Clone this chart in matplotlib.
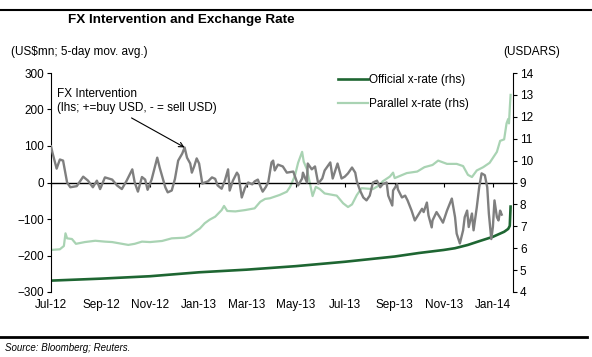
import pandas as pd
import matplotlib
matplotlib.use("Agg")
import matplotlib.pyplot as plt
import matplotlib.dates as mdates

plt.rcParams['font.family'] = ['Liberation Sans', 'DejaVu Sans']

# FX intervention, US$mn, 5-day moving average (lhs)
fx_dates = [
    "2012-07-01", "2012-07-03", "2012-07-08", "2012-07-12", "2012-07-16", "2012-07-21",
    "2012-07-25", "2012-08-02", "2012-08-10", "2012-08-16", "2012-08-22", "2012-08-27",
    "2012-08-31", "2012-09-06", "2012-09-15", "2012-09-21", "2012-09-27", "2012-10-03",
    "2012-10-10", "2012-10-13", "2012-10-17", "2012-10-22", "2012-10-26", "2012-10-29",
    "2012-11-03", "2012-11-10", "2012-11-13", "2012-11-20", "2012-11-23", "2012-11-28",
    "2012-12-02", "2012-12-06", "2012-12-11", "2012-12-14", "2012-12-17", "2012-12-21",
    "2012-12-23", "2012-12-26", "2012-12-29", "2013-01-01", "2013-01-05", "2013-01-08",
    "2013-01-12", "2013-01-17", "2013-01-21", "2013-01-24", "2013-01-29", "2013-02-02",
    "2013-02-06", "2013-02-08", "2013-02-12", "2013-02-17", "2013-02-19", "2013-02-23",
    "2013-02-27", "2013-03-03", "2013-03-08", "2013-03-11", "2013-03-15", "2013-03-18",
    "2013-03-21", "2013-03-25", "2013-03-28", "2013-04-01", "2013-04-03", "2013-04-05",
    "2013-04-09", "2013-04-15", "2013-04-20", "2013-04-28", "2013-05-01", "2013-05-04",
    "2013-05-09", "2013-05-10", "2013-05-15", "2013-05-16", "2013-05-21", "2013-05-25",
    "2013-05-29", "2013-06-03", "2013-06-06", "2013-06-13", "2013-06-16", "2013-06-22",
    "2013-06-27", "2013-07-01", "2013-07-05", "2013-07-10", "2013-07-14", "2013-07-16",
    "2013-07-20", "2013-07-24", "2013-07-28", "2013-08-01", "2013-08-05", "2013-08-10",
    "2013-08-14", "2013-08-17", "2013-08-22", "2013-08-24", "2013-08-29", "2013-08-30",
    "2013-09-04", "2013-09-05", "2013-09-10", "2013-09-14", "2013-09-17", "2013-09-22",
    "2013-09-26", "2013-09-30", "2013-10-05", "2013-10-07", "2013-10-11", "2013-10-13",
    "2013-10-17", "2013-10-18", "2013-10-23", "2013-10-27", "2013-10-31", "2013-11-05",
    "2013-11-11", "2013-11-15", "2013-11-17", "2013-11-21", "2013-11-25", "2013-11-27",
    "2013-11-30", "2013-12-02", "2013-12-06", "2013-12-08", "2013-12-12", "2013-12-15",
    "2013-12-18", "2013-12-22", "2013-12-25", "2013-12-27", "2013-12-30", "2014-01-01",
    "2014-01-03", "2014-01-06", "2014-01-08", "2014-01-10", "2014-01-12",
]
fx_values = [
    99, 80, 38, 63, 60, 0,
    -13, -10, 16, 5, -13, 5,
    -18, 14, 8, -8, -18, 5,
    36, 0, -25, 15, 8, -20,
    8, 68, 41, -13, -27, -22,
    10, 60, 79, 96, 68, 52,
    27, 45, 66, 52, -3, 0,
    3, 14, 10, -8, -17, 5,
    36, -22, 5, 27, 20, -41,
    -15, 0, -5, 3, 8, -10,
    -25, -12, 2, 55, 60, 33,
    49, 44, 27, 30, 11, -8,
    11, 27, 0, 52, 36, 44,
    -3, 11, 33, 55, 11, 52,
    11, 16, 25, 41, 27, 3,
    -22, -41, -49, -36, 0, 5,
    -13, -5, 0, -36, -63, -22,
    -5, -19, -41, -36, -49, -77,
    -104, -90, -72, -81, -55, -90,
    -123, -104, -81, -95, -110, -77,
    -44, -95, -140, -167, -131, -95,
    -77, -122, -85, -131, -68, -13,
    25, 20, -13, -85, -155, -122,
    -49, -95, -104, -77, -88,
]

# official exchange rate, ARS per USD (rhs)
official_dates = [
    "2012-07-01", "2012-09-01", "2012-11-01", "2013-01-01", "2013-03-01", "2013-05-01",
    "2013-07-01", "2013-09-01", "2013-10-01", "2013-11-01", "2013-11-15", "2013-12-01",
    "2013-12-15", "2014-01-01", "2014-01-15", "2014-01-20", "2014-01-22", "2014-01-23",
]
official_values = [
    4.52, 4.61, 4.72, 4.90, 5.02, 5.18,
    5.38, 5.62, 5.78, 5.92, 6.00, 6.15,
    6.32, 6.52, 6.75, 6.88, 7.02, 7.90,
]

# parallel ("blue") exchange rate, ARS per USD (rhs)
parallel_dates = [
    "2012-07-01", "2012-07-12", "2012-07-17", "2012-07-19", "2012-07-21", "2012-07-27",
    "2012-08-01", "2012-08-12", "2012-08-25", "2012-09-06", "2012-09-15", "2012-10-05",
    "2012-10-13", "2012-10-22", "2012-11-01", "2012-11-16", "2012-11-28", "2012-12-14",
    "2012-12-21", "2012-12-27", "2013-01-02", "2013-01-08", "2013-01-14", "2013-01-21",
    "2013-01-29", "2013-02-01", "2013-02-05", "2013-02-15", "2013-02-27", "2013-03-11",
    "2013-03-18", "2013-03-24", "2013-03-30", "2013-04-11", "2013-04-20", "2013-04-24",
    "2013-04-30", "2013-05-04", "2013-05-09", "2013-05-11", "2013-05-15", "2013-05-19",
    "2013-05-22", "2013-05-26", "2013-05-31", "2013-06-06", "2013-06-21", "2013-06-29",
    "2013-07-05", "2013-07-10", "2013-07-16", "2013-07-22", "2013-08-05", "2013-08-14",
    "2013-08-17", "2013-08-26", "2013-08-30", "2013-09-01", "2013-09-16", "2013-09-29",
    "2013-10-08", "2013-10-18", "2013-10-25", "2013-11-05", "2013-11-17", "2013-11-25",
    "2013-12-01", "2013-12-06", "2013-12-12", "2013-12-20", "2013-12-28", "2014-01-06",
    "2014-01-10", "2014-01-15", "2014-01-18", "2014-01-20", "2014-01-21", "2014-01-22",
    "2014-01-23",
]
parallel_values = [
    5.92, 5.95, 6.10, 6.68, 6.45, 6.42,
    6.20, 6.28, 6.34, 6.30, 6.28, 6.15,
    6.20, 6.30, 6.28, 6.33, 6.45, 6.48,
    6.58, 6.75, 6.90, 7.14, 7.30, 7.44,
    7.74, 7.93, 7.70, 7.68, 7.74, 7.82,
    8.12, 8.25, 8.28, 8.43, 8.58, 8.80,
    9.30, 9.90, 10.40, 9.95, 9.60, 8.90,
    8.38, 8.80, 8.70, 8.50, 8.40, 8.05,
    7.88, 8.00, 8.43, 8.74, 8.70, 8.90,
    9.05, 9.27, 9.45, 9.20, 9.43, 9.50,
    9.70, 9.80, 10.00, 9.85, 9.85, 9.75,
    9.35, 9.25, 9.55, 9.70, 9.90, 10.40,
    10.90, 10.97, 11.70, 11.90, 11.70, 12.40,
    13.00,
]

fx = pd.Series(fx_values, index=pd.to_datetime(fx_dates))
official = pd.Series(official_values, index=pd.to_datetime(official_dates))
parallel = pd.Series(parallel_values, index=pd.to_datetime(parallel_dates))

GREY = "#7f7f7f"
DARK_GREEN = "#1e6632"
LIGHT_GREEN = "#a9d3b3"
FS = 8.5

fig = plt.figure(figsize=(5.92, 3.57), dpi=100)
ax = fig.add_axes([51 / 592, 1 - 292 / 357, (513 - 51) / 592, (292 - 73) / 357])
ax2 = ax.twinx()

ax.plot(fx.index, fx.values, color=GREY, lw=1.7, zorder=3)
ax2.plot(official.index, official.values, color=DARK_GREEN, lw=1.9, label="Official x-rate (rhs)")
ax2.plot(parallel.index, parallel.values, color=LIGHT_GREEN, lw=1.6, label="Parallel x-rate (rhs)")

ax.set_ylim(-300, 300)
ax.set_yticks(range(-300, 301, 100))
ax2.set_ylim(4, 14)
ax2.set_yticks(range(4, 15))
xmin, xmax = pd.Timestamp("2012-07-01"), pd.Timestamp("2014-01-26")
ax.set_xlim(xmin, xmax)

for a in (ax, ax2):
    a.spines['top'].set_visible(False)
    a.tick_params(axis='y', direction='out', length=3, width=0.8, labelsize=FS, pad=2)
ax.spines['right'].set_visible(False)
ax2.spines['left'].set_visible(False)
ax2.spines['bottom'].set_visible(False)

# zero line carries the month ticks, labels sit at the bottom
ax.spines['bottom'].set_position(('data', 0))
ax.spines['bottom'].set_linewidth(1.0)
months = mdates.MonthLocator(bymonth=[1, 3, 5, 7, 9, 11])
ax.xaxis.set_major_locator(months)
ax.tick_params(axis='x', direction='out', length=3, width=0.8, labelbottom=False)
sec = ax.secondary_xaxis('bottom')
sec.xaxis.set_major_locator(months)
sec.xaxis.set_major_formatter(mdates.DateFormatter('%b-%y'))
sec.tick_params(axis='x', length=0, labelsize=FS, pad=5)
sec.spines['bottom'].set_visible(False)

ax.set_zorder(ax2.get_zorder() + 1)
ax.patch.set_visible(False)

ax2.legend(loc='upper left', bbox_to_anchor=(0.612, 1.015), frameon=False, fontsize=FS,
           handlelength=2.5, handletextpad=0.1, labelspacing=0.95, borderaxespad=0)

ax.annotate("FX Intervention\n(lhs; +=buy USD, - = sell USD)",
            xy=(pd.Timestamp("2012-12-14"), 96), xytext=(57, 357 - 88),
            textcoords='figure pixels', fontsize=FS, va='top', ha='left',
            arrowprops=dict(arrowstyle='->', color='black', lw=0.8,
                            relpos=(0.42, 0.0), shrinkA=2, shrinkB=0))

fig.text(68 / 592, 1 - 20 / 357, "FX Intervention and Exchange Rate", fontsize=9.7, fontweight='bold',
         ha='left', va='center')
fig.text(11 / 592, 1 - 52 / 357, "(US$mn; 5-day mov. avg.)", fontsize=FS, ha='left', va='center')
fig.text(560 / 592, 1 - 52 / 357, "(USDARS)", fontsize=FS, ha='right', va='center')
fig.text(5 / 592, 1 - 348 / 357, "Source: Bloomberg; Reuters.", fontsize=7, style='italic',
         ha='left', va='center')

fig.add_artist(plt.Line2D([0, 1], [1 - 10 / 357, 1 - 10 / 357], color='black', lw=1.5))
fig.add_artist(plt.Line2D([0, 587 / 592], [1 - 337 / 357, 1 - 337 / 357], color='black', lw=2))

fig.savefig("out.png", dpi=100)
